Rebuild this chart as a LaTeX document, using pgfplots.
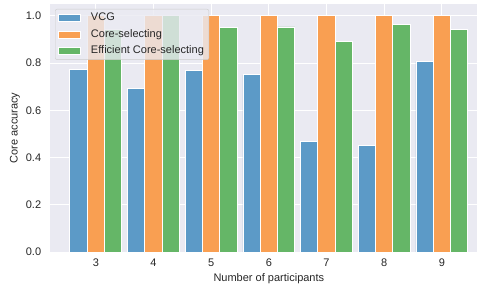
\documentclass[border=0pt]{standalone}
\usepackage{pgfplots}
\pgfplotsset{compat=1.18}
\usepackage{fontspec}
\setmainfont{Liberation Sans}
\definecolor{bg}{HTML}{EAEAF2}
\definecolor{txt}{gray}{0.15}
\definecolor{cblue}{RGB}{92,154,199}
\definecolor{corange}{RGB}{249,159,82}
\definecolor{cgreen}{RGB}{101,182,103}
\begin{document}
\fontsize{11bp}{13bp}\selectfont
\begin{tikzpicture}
\begin{axis}[
  scale only axis,
  width=437.7bp, height=248bp,
  xmin=2.205, xmax=9.795, ymin=0, ymax=1.05,
  axis background/.style={fill=bg},
  axis line style={draw=none},
  major tick length=0pt,
  grid=major,
  grid style={white, line width=1bp},
  xtick={3,4,5,6,7,8,9},
  ytick={0,0.2,0.4,0.6,0.8,1.0},
  yticklabel style={/pgf/number format/fixed, /pgf/number format/fixed zerofill, /pgf/number format/precision=1, xshift=-5bp},
  xticklabel style={yshift=-3bp},
  /pgf/number format/assume math mode=true,
  tick label style={font=\fontsize{11bp}{13bp}\selectfont, text=txt},
  label style={font=\fontsize{11bp}{13bp}\selectfont, text=txt},
  xlabel={Number of participants},
  ylabel={Core accuracy},
  xlabel style={at={(axis description cs:0.5,-0.107)}, anchor=center},
  ylabel style={at={(axis description cs:-0.08,0.5)}, anchor=center},
  ybar, bar width=0.3,
  legend cell align=left,
  legend style={at={(0,1)}, anchor=north west, xshift=5bp, yshift=-5bp,
    fill=bg, fill opacity=0.8, text opacity=1, draw=black!20, rounded corners=2bp,
    font=\fontsize{11bp}{13bp}\selectfont, text=txt,
    row sep=2bp, column sep=8bp, inner xsep=2.5bp, inner ysep=1.5bp,
    nodes={inner xsep=2.5bp, inner ysep=2bp, text height=8bp, text depth=2.5bp}},
  legend image code/.code={\draw[#1, fill opacity=1, sharp corners] (0bp,-3.5bp) rectangle (22bp,3.5bp);},
]
\addplot[fill=cblue, draw=white, line width=0.8bp, bar shift=-0.3] coordinates {(3,0.771) (4,0.694) (5,0.768) (6,0.750) (7,0.467) (8,0.450) (9,0.806)};
\addplot[fill=corange, draw=white, line width=0.8bp, bar shift=0] coordinates {(3,1.0) (4,1.0) (5,1.0) (6,1.0) (7,1.0) (8,1.0) (9,1.0)};
\addplot[fill=cgreen, draw=white, line width=0.8bp, bar shift=0.3] coordinates {(3,0.944) (4,1.0) (5,0.949) (6,0.953) (7,0.891) (8,0.965) (9,0.942)};
\legend{VCG, Core-selecting, Efficient Core-selecting}
\coordinate (bl) at (rel axis cs:0,0);
\coordinate (tr) at (rel axis cs:1,1);
\end{axis}
\pgfresetboundingbox
\useasboundingbox ([shift={(-50bp,-34bp)}]bl) rectangle ([shift={(-10.7bp,4bp)}]tr);
\end{tikzpicture}
\end{document}
